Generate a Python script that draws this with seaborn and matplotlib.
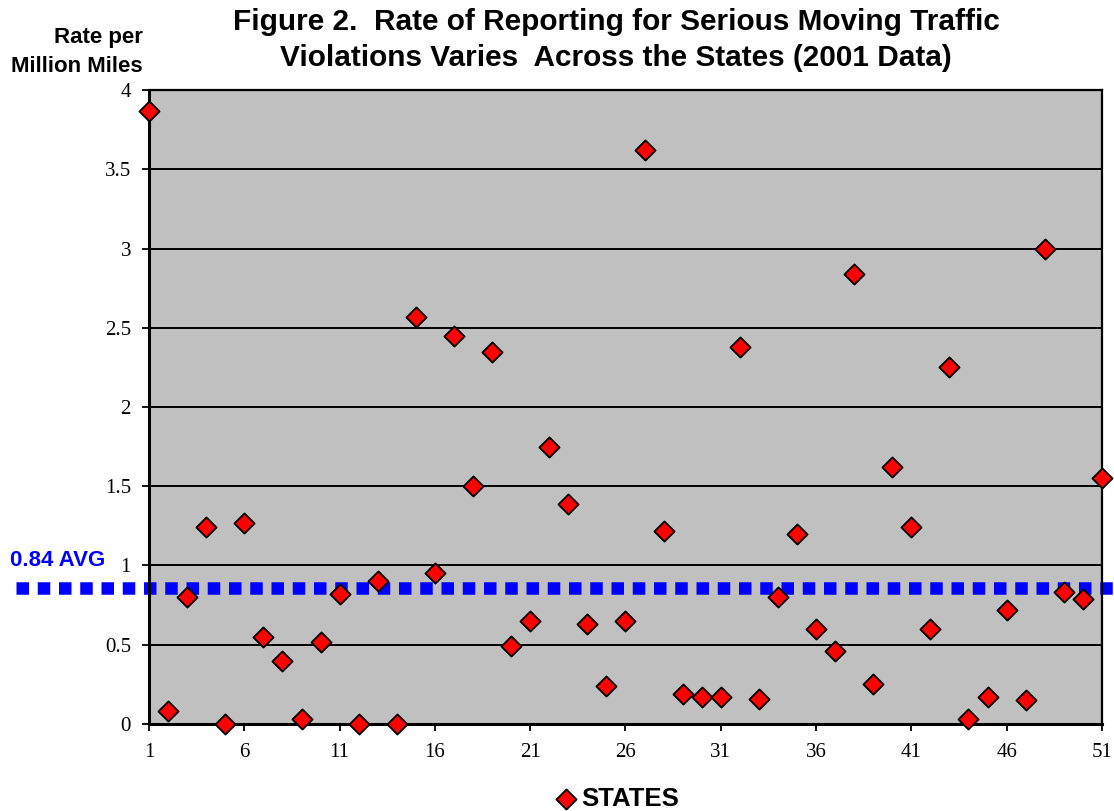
import matplotlib
matplotlib.use("Agg")

import matplotlib.pyplot as plt
import seaborn as sns
import pandas as pd

# rate of reporting per million miles, states numbered 1..51
states = list(range(1, 52))
rates = [
    3.87, 0.08, 0.80, 1.24, 0.00, 1.27, 0.55, 0.40, 0.03, 0.52,
    0.82, 0.00, 0.90, 0.00, 2.57, 0.95, 2.45, 1.50, 2.35, 0.49,
    0.65, 1.75, 1.39, 0.63, 0.24, 0.65, 3.62, 1.22, 0.19, 0.17,
    0.17, 2.38, 0.16, 0.80, 1.20, 0.60, 0.46, 2.84, 0.25, 1.62,
    1.24, 0.60, 2.25, 0.03, 0.17, 0.72, 0.15, 3.00, 0.83, 0.79,
    1.55,
]
avg_label = "0.84 AVG"
avg_line = 0.86
x_ticks = list(range(1, 52, 5))
y_ticks = [0, 0.5, 1, 1.5, 2, 2.5, 3, 3.5, 4]

df = pd.DataFrame({"state": states, "rate": rates})

sns.set_style("white")
plt.rcParams["font.family"] = ["Liberation Sans", "DejaVu Sans"]
plt.rcParams["text.color"] = "black"
plt.rcParams["xtick.color"] = "black"
plt.rcParams["ytick.color"] = "black"

fig = plt.figure(figsize=(11.14, 8.11), dpi=100)
ax = fig.add_axes([0.1338, 0.1073, 0.8553, 0.7817])
ax.set_facecolor("#C0C0C0")

# horizontal gridlines
for yv in y_ticks:
    ax.axhline(yv, color="black", lw=1.4, zorder=1)

# average line, runs past the plot area on both sides
ax.axhline(avg_line, xmin=-0.14, xmax=1.02, color="#0000FF", lw=9,
           linestyle=(0, (1, 0.7)), dash_capstyle="butt",
           clip_on=False, zorder=2)

sns.scatterplot(
    data=df, x="state", y="rate", ax=ax,
    marker="D", color="#FF0000", edgecolor="black", linewidth=1.3,
    s=105, label="STATES", clip_on=False, zorder=3,
)

ax.set_xlim(1, 51)
ax.set_ylim(0, 4)
ax.set_xticks(x_ticks)
ax.set_yticks(y_ticks)
ax.set_yticklabels([f"{v:g}" for v in y_ticks])
ax.set_xlabel("")
ax.set_ylabel("")

for lab in ax.get_xticklabels() + ax.get_yticklabels():
    lab.set_fontfamily("Liberation Serif")
    lab.set_fontsize(15)
    lab.set_color("black")

ax.tick_params(axis="both", direction="out", length=5, width=1.3,
               color="black", left=True, bottom=True)
ax.tick_params(axis="y", pad=8)
ax.tick_params(axis="x", pad=9)

for side in ["left", "bottom"]:
    ax.spines[side].set_color("black")
    ax.spines[side].set_linewidth(2.2)
for side in ["top", "right"]:
    ax.spines[side].set_visible(True)
    ax.spines[side].set_color("black")
    ax.spines[side].set_linewidth(1.6)

fig.text(0.553, 0.973, "Figure 2.  Rate of Reporting for Serious Moving Traffic",
         ha="center", va="center", fontsize=21.4, fontweight="bold")
fig.text(0.553, 0.929, "Violations Varies  Across the States (2001 Data)",
         ha="center", va="center", fontsize=21.4, fontweight="bold")
fig.text(0.128, 0.936, "Rate per\nMillion Miles", ha="right", va="center",
         fontsize=16, fontweight="bold", linespacing=1.45)
fig.text(0.009, 0.309, avg_label, ha="left", va="center", color="#0000FF",
         fontsize=16, fontweight="bold")

leg = ax.legend(loc="center", bbox_to_anchor=(0.547, 0.015),
                bbox_transform=fig.transFigure, frameon=False,
                handletextpad=-0.4, prop={"weight": "bold", "size": 18.5})

fig.savefig("out.png", dpi=100)
plt.close(fig)
